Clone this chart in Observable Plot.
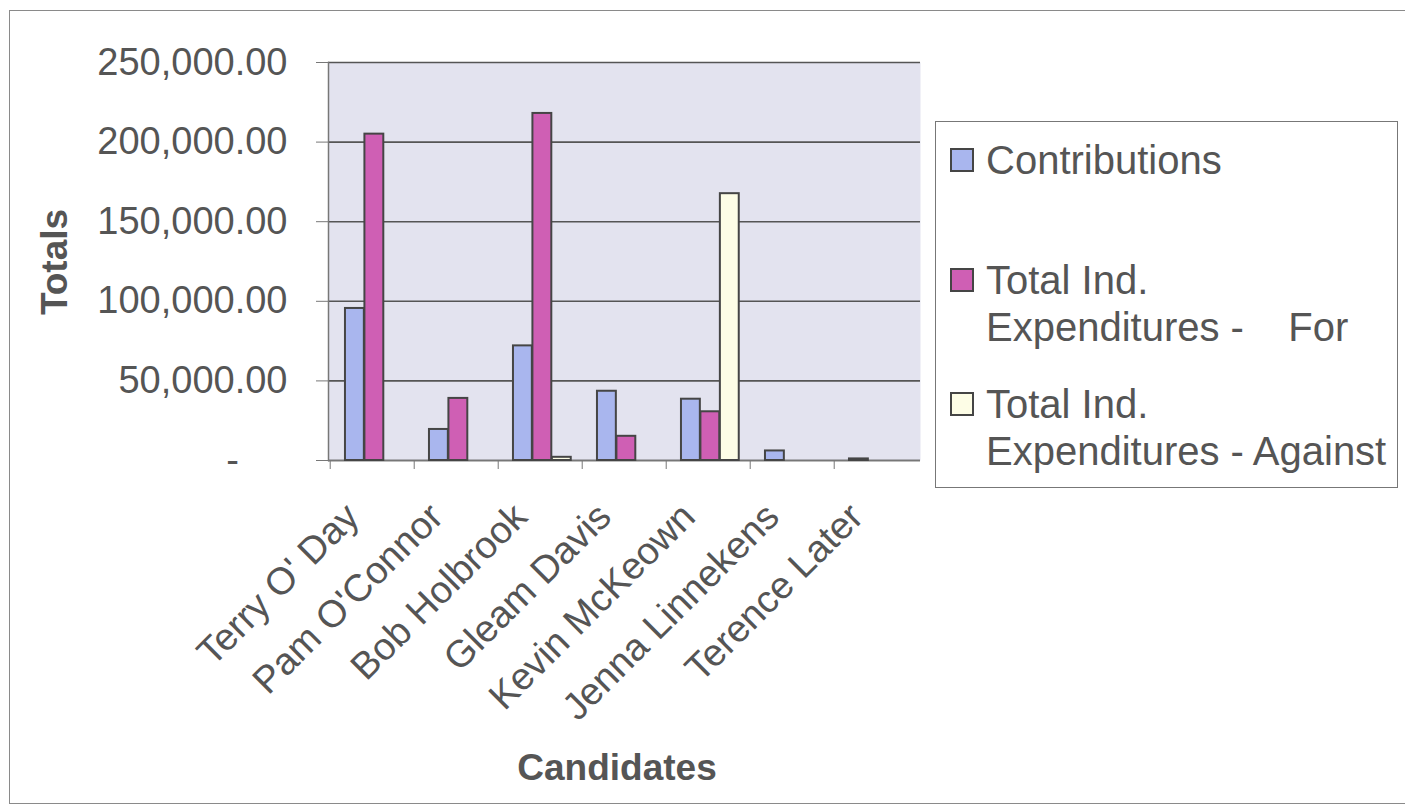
<!DOCTYPE html>
<html>
<head>
<meta charset="utf-8">
<script src="https://cdn.jsdelivr.net/npm/d3@7"></script>
<script src="https://cdn.jsdelivr.net/npm/@observablehq/plot@0.6"></script>
<style>
  html, body { margin: 0; padding: 0; background: #ffffff; }
  #wrap { position: relative; width: 1405px; height: 812px; overflow: hidden; font-family: Arial, "Liberation Sans", sans-serif; color: #555; }
  #frame { position: absolute; left: 9px; top: 10px; width: 1400px; height: 794px; border: 1.5px solid #8a8a8a; border-right: none; box-sizing: border-box; }
  #chart { position: absolute; left: 0; top: 0; }
  .title { position: absolute; font-weight: bold; font-size: 37px; color: #555; white-space: nowrap; }
  #legend { position: absolute; left: 935px; top: 121px; width: 463px; height: 367px; border: 1.5px solid #777; box-sizing: border-box; background: #fff; }
  .sw { position: absolute; width: 24px; height: 24px; border: 2px solid #454545; box-sizing: border-box; }
  .lt { position: absolute; font-size: 40px; line-height: 47px; white-space: pre; color: #555; }
</style>
</head>
<body>
<div id="wrap">
  <div id="frame"></div>
  <div id="chart"></div>
  <div id="legend"></div>
</div>
<script>
// ---- data ----
const candidates = ["Terry O' Day", "Pam O'Connor", "Bob Holbrook", "Gleam Davis", "Kevin McKeown", "Jenna Linnekens", "Terence Later"];
const seriesNames = ["Contributions", "Total Ind.\nExpenditures -    For", "Total Ind.\nExpenditures - Against"];
const contributions = [95500, 19500, 72000, 43500, 38500, 6000, 1000];
const expendituresFor = [205000, 39000, 218000, 15200, 30600, 0, 0];
const expendituresAgainst = [0, 0, 2000, 0, 167600, 0, 0];
const yTicks = [0, 50000, 100000, 150000, 200000, 250000];
const seriesColors = ["#a9b6ee", "#cf5fb4", "#fdfde6"];

const seriesValues = [contributions, expendituresFor, expendituresAgainst];

// ---- layout ----
const W = 1405, H = 812;
const mL = 328, mR = 485, mT = 62, mB = 352;
const bw = (W - mL - mR) / candidates.length;
const barStart = 0.177, barFrac = 0.23;

const fmt = d3.format(",.2f");
const tickFormat = d => d === 0 ? "-\u2002\u2002\u00a0" : fmt(d);

const barMarks = seriesValues.map((vals, i) => {
  const rows = candidates.map((c, j) => ({candidate: c, value: vals[j]})).filter(d => d.value > 0);
  return Plot.barY(rows, {
    x: "candidate", y: "value",
    fill: seriesColors[i], stroke: "#454545", strokeWidth: 2,
    insetLeft: bw * (barStart + barFrac * i),
    insetRight: bw * (1 - barStart - barFrac * (i + 1))
  });
});

const chart = Plot.plot({
  width: W, height: H,
  marginLeft: mL, marginRight: mR, marginTop: mT, marginBottom: mB,
  style: {fontFamily: "Arial, 'Liberation Sans', sans-serif", background: "transparent", overflow: "visible", color: "#555"},
  x: {type: "band", domain: candidates, padding: 0, axis: null},
  y: {domain: [0, 250000], axis: null},
  marks: [
    Plot.frame({fill: "#e3e3ef", stroke: null}),
    Plot.gridY(yTicks, {stroke: "#555", strokeOpacity: 1, strokeWidth: 1.6}),
    Plot.frame({anchor: "left", stroke: "#777", strokeWidth: 1.5}),
    Plot.ruleY([0], {stroke: "#777", strokeWidth: 1.6}),
    ...barMarks,
    Plot.axisY({ticks: yTicks, tickSize: 12, tickPadding: 29, tickFormat, fontSize: 38, fill: "#555", stroke: "#777", label: null}),
    Plot.axisX({tickSize: 9, tickFormat: () => "", dx: -bw / 2, stroke: "#777", label: null}),
    Plot.axisX({tickSize: 0, tickRotate: -45, tickPadding: 50, dx: -20, fontSize: 38, fill: "#555", label: null})
  ]
});
document.getElementById("chart").appendChild(chart);

// ---- titles ----
const wrap = document.getElementById("wrap");
const yTitle = document.createElement("div");
yTitle.className = "title";
yTitle.textContent = "Totals";
yTitle.style.left = "55px";
yTitle.style.top = "262px";
yTitle.style.transform = "translate(-50%, -50%) rotate(-90deg)";
wrap.appendChild(yTitle);

const xTitle = document.createElement("div");
xTitle.className = "title";
xTitle.textContent = "Candidates";
xTitle.style.left = "617px";
xTitle.style.top = "748px";
xTitle.style.lineHeight = "40px";
xTitle.style.transform = "translateX(-50%)";
wrap.appendChild(xTitle);

// ---- legend ----
const legend = document.getElementById("legend");
const itemTops = [15, 135, 259];
seriesNames.forEach((name, i) => {
  const sw = document.createElement("div");
  sw.className = "sw";
  sw.style.background = seriesColors[i];
  sw.style.left = "14px";
  sw.style.top = (itemTops[i] + 11) + "px";
  legend.appendChild(sw);
  const t = document.createElement("div");
  t.className = "lt";
  t.textContent = name;
  t.style.left = "50px";
  t.style.top = itemTops[i] + "px";
  legend.appendChild(t);
});
</script>
</body>
</html>
